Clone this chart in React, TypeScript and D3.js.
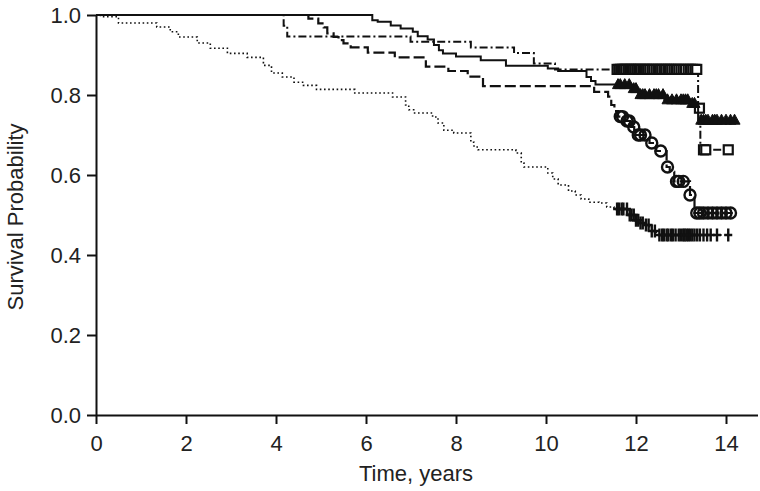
import React, { useEffect, useRef } from 'react';
import * as d3 from 'd3';

// Kaplan-Meier curves: drop times (years) and survival after each drop
const solidTimes = [6.14, 6.26, 6.55, 6.77, 7.04, 7.15, 7.37, 7.51, 7.62, 7.71, 8.0, 8.55, 9.11, 10.04, 10.27, 10.9, 11.0, 11.1, 11.9, 12.05, 12.63, 13.2, 13.38];
const solidSurv = [0.987, 0.983, 0.974, 0.966, 0.958, 0.947, 0.939, 0.925, 0.912, 0.904, 0.896, 0.887, 0.873, 0.866, 0.86, 0.845, 0.835, 0.826, 0.816, 0.801, 0.788, 0.779, 0.737];
const solidCensor = [11.6, 11.65, 11.75, 11.85, 11.95, 12.0, 12.1, 12.15, 12.2, 12.3, 12.4, 12.45, 12.5, 12.6, 12.7, 12.8, 12.9, 13.0, 13.05, 13.1, 13.15, 13.25, 13.3, 13.45, 13.5, 13.55, 13.6, 13.7, 13.75, 13.8, 13.9, 14.0, 14.1, 14.19];
const solidEnd = 14.19;

const dashTimes = [4.72, 4.94, 5.06, 5.14, 5.28, 5.39, 5.5, 5.66, 6.04, 6.64, 7.33, 7.83, 8.26, 8.6, 11.07, 11.38, 11.45, 11.52, 11.6, 11.75, 11.89, 11.96, 12.3, 12.45, 12.68, 12.75, 12.85, 13.2, 13.3];
const dashSurv = [0.991, 0.979, 0.969, 0.954, 0.945, 0.937, 0.929, 0.919, 0.906, 0.894, 0.871, 0.86, 0.846, 0.822, 0.808, 0.796, 0.775, 0.76, 0.746, 0.735, 0.72, 0.70, 0.68, 0.66, 0.62, 0.608, 0.584, 0.55, 0.505];
const dashCensor = [11.65, 11.7, 11.8, 11.85, 11.95, 12.05, 12.1, 12.2, 12.35, 12.55, 12.7, 12.9, 12.95, 13.05, 13.2, 13.35, 13.42, 13.5, 13.6, 13.7, 13.8, 13.9, 14.0, 14.1];
const dashEnd = 14.15;

const dashDotTimes = [4.17, 4.25, 6.99, 8.33, 9.29, 9.73, 10.2, 13.38, 13.43];
const dashDotSurv = [0.973, 0.946, 0.933, 0.919, 0.905, 0.879, 0.864, 0.767, 0.663];
const dashDotCensor = [11.58, 11.62, 11.66, 11.7, 11.74, 11.78, 11.83, 11.87, 11.9, 11.94, 11.98, 12.02, 12.06, 12.1, 12.15, 12.19, 12.23, 12.27, 12.31, 12.36, 12.4, 12.45, 12.5, 12.54, 12.58, 12.63, 12.67, 12.72, 12.76, 12.8, 12.85, 12.9, 12.95, 13.0, 13.05, 13.1, 13.16, 13.21, 13.26, 13.31, 13.35, 13.41, 13.5, 13.55, 14.05];
const dashDotEnd = 14.07;

const dotTimes = [0.1, 0.5, 1.35, 1.65, 1.83, 2.25, 2.54, 2.92, 3.36, 3.72, 3.9, 4.14, 4.4, 4.61, 4.9, 5.75, 6.59, 6.88, 6.95, 7.06, 7.48, 7.6, 7.73, 7.95, 8.33, 8.4, 8.49, 9.33, 9.45, 9.51, 10.04, 10.15, 10.27, 10.5, 10.65, 10.78, 10.95, 11.18, 11.35, 11.51, 11.83, 12.0, 12.1, 12.2, 12.3, 12.45];
const dotSurv = [0.996, 0.98, 0.97, 0.958, 0.945, 0.93, 0.917, 0.904, 0.894, 0.874, 0.855, 0.845, 0.832, 0.824, 0.814, 0.805, 0.795, 0.775, 0.763, 0.755, 0.745, 0.73, 0.712, 0.705, 0.682, 0.67, 0.663, 0.655, 0.63, 0.62, 0.605, 0.59, 0.575, 0.56, 0.55, 0.54, 0.532, 0.53, 0.52, 0.515, 0.50, 0.487, 0.48, 0.475, 0.46, 0.45];
const dotCensor = [11.58, 11.62, 11.68, 11.72, 11.8, 11.86, 11.9, 11.95, 12.0, 12.05, 12.1, 12.15, 12.22, 12.28, 12.35, 12.42, 12.52, 12.58, 12.62, 12.68, 12.72, 12.78, 12.82, 12.88, 12.95, 13.0, 13.05, 13.08, 13.12, 13.16, 13.2, 13.25, 13.3, 13.36, 13.42, 13.5, 13.58, 13.66, 13.8, 14.05];
const dotEnd = 14.12;

const xTicks = [0, 2, 4, 6, 8, 10, 12, 14];
const yTicks = [0, 0.2, 0.4, 0.6, 0.8, 1.0];

const WIDTH = 760;
const HEIGHT = 491;
const FONT = '"Liberation Sans", Arial, sans-serif';
const INK = '#111';

type Curve = {
  times: number[];
  surv: number[];
  censor: number[];
  end: number;
  dash: string | null;
  width: number;
  marker: 'square' | 'triangle' | 'circle' | 'plus';
};

const curves: Curve[] = [
  { times: dotTimes, surv: dotSurv, censor: dotCensor, end: dotEnd, dash: '1.6,2.6', width: 1.6, marker: 'plus' },
  { times: dashDotTimes, surv: dashDotSurv, censor: dashDotCensor, end: dashDotEnd, dash: '8,3,2,3', width: 2, marker: 'square' },
  { times: dashTimes, surv: dashSurv, censor: dashCensor, end: dashEnd, dash: '11,4', width: 2.2, marker: 'circle' },
  { times: solidTimes, surv: solidSurv, censor: solidCensor, end: solidEnd, dash: null, width: 2, marker: 'triangle' },
];

function survAt(c: Curve, t: number) {
  let s = 1;
  c.times.forEach((ti, i) => {
    if (ti <= t) s = c.surv[i];
  });
  return s;
}

export default function App() {
  const xAxisRef = useRef<SVGGElement>(null);
  const yAxisRef = useRef<SVGGElement>(null);

  const x = d3.scaleLinear().domain([0, 14.7]).range([96, 757.5]);
  const y = d3.scaleLinear().domain([0, 1]).range([415, 15]);

  useEffect(() => {
    const xa = d3.select(xAxisRef.current!);
    xa.call(
      d3.axisBottom(x).tickValues(xTicks).tickFormat(d3.format('d')).tickSize(9).tickSizeOuter(0).tickPadding(11) as any
    );
    const ya = d3.select(yAxisRef.current!);
    ya.call(
      d3.axisLeft(y).tickValues(yTicks).tickFormat(d3.format('.1f')).tickSize(9).tickSizeOuter(0).tickPadding(6) as any
    );
    [xa, ya].forEach(a => {
      a.select('.domain').attr('stroke', INK).attr('stroke-width', 2);
      a.selectAll('.tick line').attr('stroke', INK).attr('stroke-width', 2);
      a.selectAll('.tick text')
        .attr('fill', '#222')
        .style('font-family', FONT)
        .style('font-size', '22px');
    });
  }, []);

  const line = d3
    .line<[number, number]>()
    .x(d => x(d[0]))
    .y(d => y(d[1]))
    .curve(d3.curveStepAfter);

  const markerShape = (m: Curve['marker'], cx: number, cy: number, key: string) => {
    if (m === 'square') {
      return <rect key={key} x={cx - 4.5} y={cy - 4.5} width={9} height={9} fill="white" stroke={INK} strokeWidth={2.2} />;
    }
    if (m === 'circle') {
      return <circle key={key} cx={cx} cy={cy} r={5.5} fill="none" stroke={INK} strokeWidth={2.4} />;
    }
    if (m === 'triangle') {
      return (
        <path key={key} d={`M${cx},${cy - 6}L${cx + 5.5},${cy + 4}L${cx - 5.5},${cy + 4}Z`} fill={INK} stroke={INK} strokeWidth={1} />
      );
    }
    return (
      <path key={key} d={`M${cx},${cy - 6.5}V${cy + 6.5}M${cx - 4},${cy}H${cx + 4}`} stroke={INK} strokeWidth={2.4} fill="none" />
    );
  };

  return (
    <svg width={WIDTH} height={HEIGHT} style={{ display: 'block', position: 'absolute', left: 0, top: 0, background: 'white' }}>
      <rect width={WIDTH} height={HEIGHT} fill="white" />
      {curves.map((c, ci) => {
        const pts: [number, number][] = [[0, 1]];
        c.times.forEach((t, i) => pts.push([t, c.surv[i]]));
        pts.push([c.end, c.surv[c.surv.length - 1]]);
        return (
          <g key={ci}>
            <path
              d={line(pts) || ''}
              fill="none"
              stroke={INK}
              strokeWidth={c.width}
              strokeDasharray={c.dash || undefined}
            />
            {c.censor.map((t, k) => markerShape(c.marker, x(t), y(survAt(c, t)), `${ci}-${k}`))}
          </g>
        );
      })}
      <g ref={xAxisRef} transform={`translate(0,${y(0)})`} />
      <g ref={yAxisRef} transform={`translate(${x(0)},0)`} />
      <text x={416} y={481} textAnchor="middle" fill="#222" style={{ fontFamily: FONT, fontSize: 22 }}>
        Time, years
      </text>
      <text
        transform={`translate(23,217) rotate(-90)`}
        textAnchor="middle"
        fill="#222"
        style={{ fontFamily: FONT, fontSize: 22 }}
      >
        Survival Probability
      </text>
    </svg>
  );
}
